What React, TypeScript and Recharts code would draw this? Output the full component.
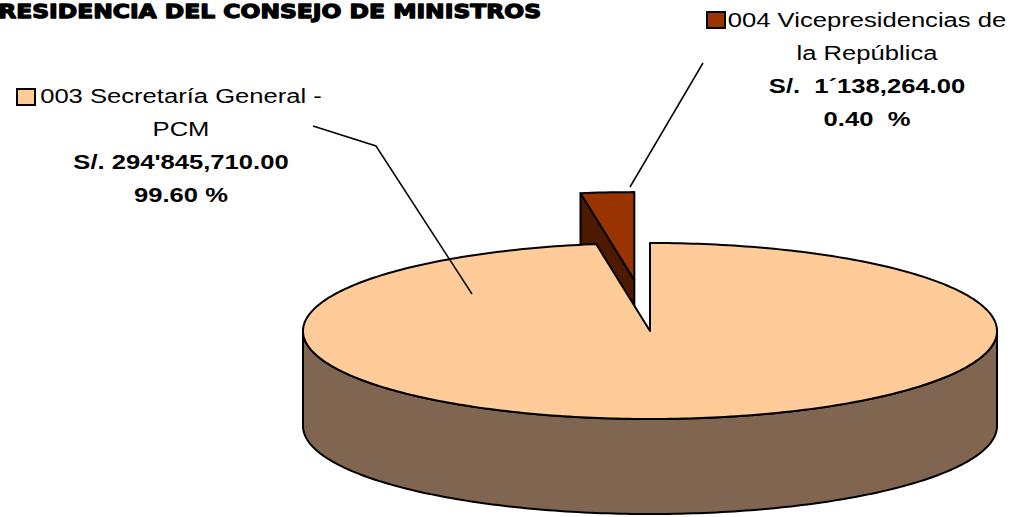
import { PieChart, Pie, Cell } from "recharts";

// Presupuesto por unidad ejecutora
const names = ["004 Vicepresidencias de la República", "003 Secretaría General - PCM"];
const amounts = [1138264, 294845710];
const nameLines = [
  ["004 Vicepresidencias de", "la República"],
  ["003 Secretaría General -", "PCM"],
];
const amountLabels = ["S/.  1´138,264.00", "S/. 294'845,710.00"];
const percentLabels = ["0.40  %", "99.60 %"];
const title = "PRESIDENCIA DEL CONSEJO DE MINISTROS";

const data = names.map((name, i) => ({ name, value: amounts[i] }));

const W = 1014;
const H = 517;
const TOP = ["#993300", "#FFCC99"];
const SIDE = ["#4D1A00", "#806650"];
const RY_RATIO = 88 / 347;
const DEPTH = 95;
const EXPLODE = [0.58, 0];
const RAD = Math.PI / 180;
const SX = 1.28;

const LABELS = [
  { x: 867, y: 27, box: [707, 12], leader: [[703, 63], [630, 187]] },
  { x: 181, y: 103, box: [17, 89], leader: [[313, 126], [376, 146], [472, 294]] },
];

type Pt = [number, number];
const path = (pts: Pt[]) => "M" + pts.map((q) => q[0].toFixed(2) + "," + q[1].toFixed(2)).join("L") + "Z";

function Txt({ x, y, bold, children }: { x: number; y: number; bold?: boolean; children: string }) {
  return (
    <text
      transform={`translate(${x},${y}) scale(${SX},1)`}
      textAnchor="middle"
      fontFamily="'Liberation Sans', Arial, sans-serif"
      fontSize={20}
      fontWeight={bold ? 700 : 400}
      fill="#000"
      style={{ whiteSpace: "pre" }}
    >
      {children}
    </text>
  );
}

function Slice3D(props: any) {
  const { cx, cy, outerRadius, startAngle, endAngle, index } = props;
  const rx = outerRadius;
  const ry = outerRadius * RY_RATIO;
  const s = Math.min(startAngle, endAngle);
  const e = Math.max(startAngle, endAngle);
  const mid = (s + e) / 2;
  const k = EXPLODE[index] ?? 0;
  const ox = k * rx * Math.cos(mid * RAD);
  const oy = -k * ry * Math.sin(mid * RAD);
  const p = (a: number, dz = 0): Pt => [cx + ox + rx * Math.cos(a * RAD), cy + oy - ry * Math.sin(a * RAD) + dz];
  const c0: Pt = [cx + ox, cy + oy];
  const arc = (a0: number, a1: number, dz: number) => {
    const n = Math.max(2, Math.ceil(Math.abs(a1 - a0)));
    const out: Pt[] = [];
    for (let i = 0; i <= n; i++) out.push(p(a0 + ((a1 - a0) * i) / n, dz));
    return out;
  };
  const face = (a: number) => path([c0, p(a), p(a, DEPTH), [c0[0], c0[1] + DEPTH]]);

  // only the faces turned toward the viewer
  const faces: string[] = [];
  if (Math.cos(s * RAD) > 1e-6) faces.push(face(s));
  if (Math.cos(e * RAD) < -1e-6) faces.push(face(e));
  const walls: string[] = [];
  for (const off of [-360, 0, 360]) {
    const a0 = Math.max(s, 180 + off);
    const a1 = Math.min(e, 360 + off);
    if (a1 > a0) walls.push(path([...arc(a0, a1, 0), ...arc(a1, a0, DEPTH)]));
  }
  const top = path([c0, ...arc(s, e, 0)]);
  const lab = LABELS[index];
  const [l1, l2] = nameLines[index];

  return (
    <g>
      {faces.map((d, i) => (
        <path key={"f" + i} d={d} fill={SIDE[index]} stroke="#000" strokeWidth={2} strokeLinejoin="round" />
      ))}
      {walls.map((d, i) => (
        <path key={"w" + i} d={d} fill={SIDE[index]} stroke="#000" strokeWidth={2} strokeLinejoin="round" />
      ))}
      <path d={top} fill={TOP[index]} stroke="#000" strokeWidth={2} strokeLinejoin="round" />
      <polyline points={lab.leader.map((q) => q.join(",")).join(" ")} fill="none" stroke="#000" strokeWidth={1.5} />
      <rect x={lab.box[0]} y={lab.box[1]} width={18} height={16} fill={TOP[index]} stroke="#000" strokeWidth={2} />
      <Txt x={lab.x} y={lab.y}>{l1}</Txt>
      <Txt x={lab.x} y={lab.y + 33}>{l2}</Txt>
      <Txt x={lab.x} y={lab.y + 66} bold>{amountLabels[index]}</Txt>
      <Txt x={lab.x} y={lab.y + 99} bold>{percentLabels[index]}</Txt>
    </g>
  );
}

export default function App() {
  return (
    <div style={{ position: "absolute", left: 0, top: 0, width: W, height: H, background: "#fff" }}>
      <PieChart width={W} height={H} margin={{ top: 0, right: 0, bottom: 0, left: 0 }}>
        <Pie
          data={data}
          dataKey="value"
          nameKey="name"
          cx={650}
          cy={331}
          outerRadius={347}
          startAngle={90}
          endAngle={450}
          minAngle={7.6}
          stroke="none"
          label={Slice3D}
          labelLine={false}
          isAnimationActive={false}
        >
          {data.map((d) => (
            <Cell key={d.name} fill="none" stroke="none" />
          ))}
        </Pie>
      </PieChart>
      <svg width={W} height={40} style={{ position: "absolute", left: 0, top: 0, pointerEvents: "none" }}>
        <text
          x={-19}
          y={18}
          textLength={560}
          lengthAdjust="spacingAndGlyphs"
          fontFamily="'DejaVu Sans', sans-serif"
          fontWeight={900}
          fontSize={20}
          fill="#000"
          stroke="#000"
          strokeWidth={1.3}
          strokeLinejoin="round"
        >
          {title}
        </text>
      </svg>
    </div>
  );
}
